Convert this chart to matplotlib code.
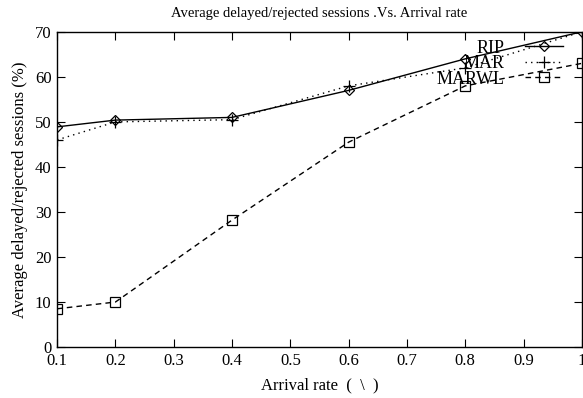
import matplotlib
matplotlib.use("Agg")
import matplotlib.pyplot as plt

# values
arrival_rate = [0.1, 0.2, 0.4, 0.6, 0.8, 1.0]
rip = [48.9, 50.4, 51.0, 57.0, 64.0, 70.0]
mar = [46.0, 50.0, 50.5, 58.0, 62.0, 70.0]
marwl = [8.5, 10.0, 28.2, 45.5, 58.0, 63.0]

x_ticks = [0.1, 0.2, 0.3, 0.4, 0.5, 0.6, 0.7, 0.8, 0.9, 1]
x_labels = ["0.1", "0.2", "0.3", "0.4", "0.5", "0.6", "0.7", "0.8", "0.9", "1"]
y_ticks = [0, 10, 20, 30, 40, 50, 60, 70]

plt.rcParams['font.family'] = ['Liberation Serif', 'DejaVu Serif']

fig = plt.figure(figsize=(5.83, 3.98), dpi=100)
ax = fig.add_axes([0.098, 0.128, 0.900, 0.792])

ax.plot(arrival_rate, rip, color="black", linestyle="-", linewidth=1.0,
        marker="D", markersize=5, markerfacecolor="none", markeredgewidth=0.9, label="RIP")
ax.plot(arrival_rate, mar, color="black", linestyle=(0, (1, 3)), linewidth=1.0,
        marker="+", markersize=8, markeredgewidth=0.9, label="MAR")
ax.plot(arrival_rate, marwl, color="black", linestyle=(0, (4, 3)), linewidth=1.0,
        marker="s", markersize=7, markerfacecolor="none", markeredgewidth=0.9, label="MARWL")

ax.set_xlim(0.1, 1.0)
ax.set_ylim(0, 70)
ax.set_xticks(x_ticks)
ax.set_xticklabels(x_labels)
ax.set_yticks(y_ticks)
ax.tick_params(direction="in", top=True, right=True, length=6, labelsize=12, pad=4)
for s in ax.spines.values():
    s.set_linewidth(1.0)

ax.set_title("Average delayed/rejected sessions .Vs. Arrival rate", fontsize=10.5, pad=11)
ax.set_xlabel("Arrival rate  (  \\  )", fontsize=12, labelpad=6)
ax.set_ylabel("Average delayed/rejected sessions (%)", fontsize=12, labelpad=5)

ax.legend(loc="upper right", bbox_to_anchor=(0.985, 1.01), frameon=False,
          markerfirst=False, fontsize=13, handlelength=2.1, labelspacing=-0.08,
          handletextpad=1.15, borderaxespad=0.2)

fig.savefig("out.png", dpi=100)
